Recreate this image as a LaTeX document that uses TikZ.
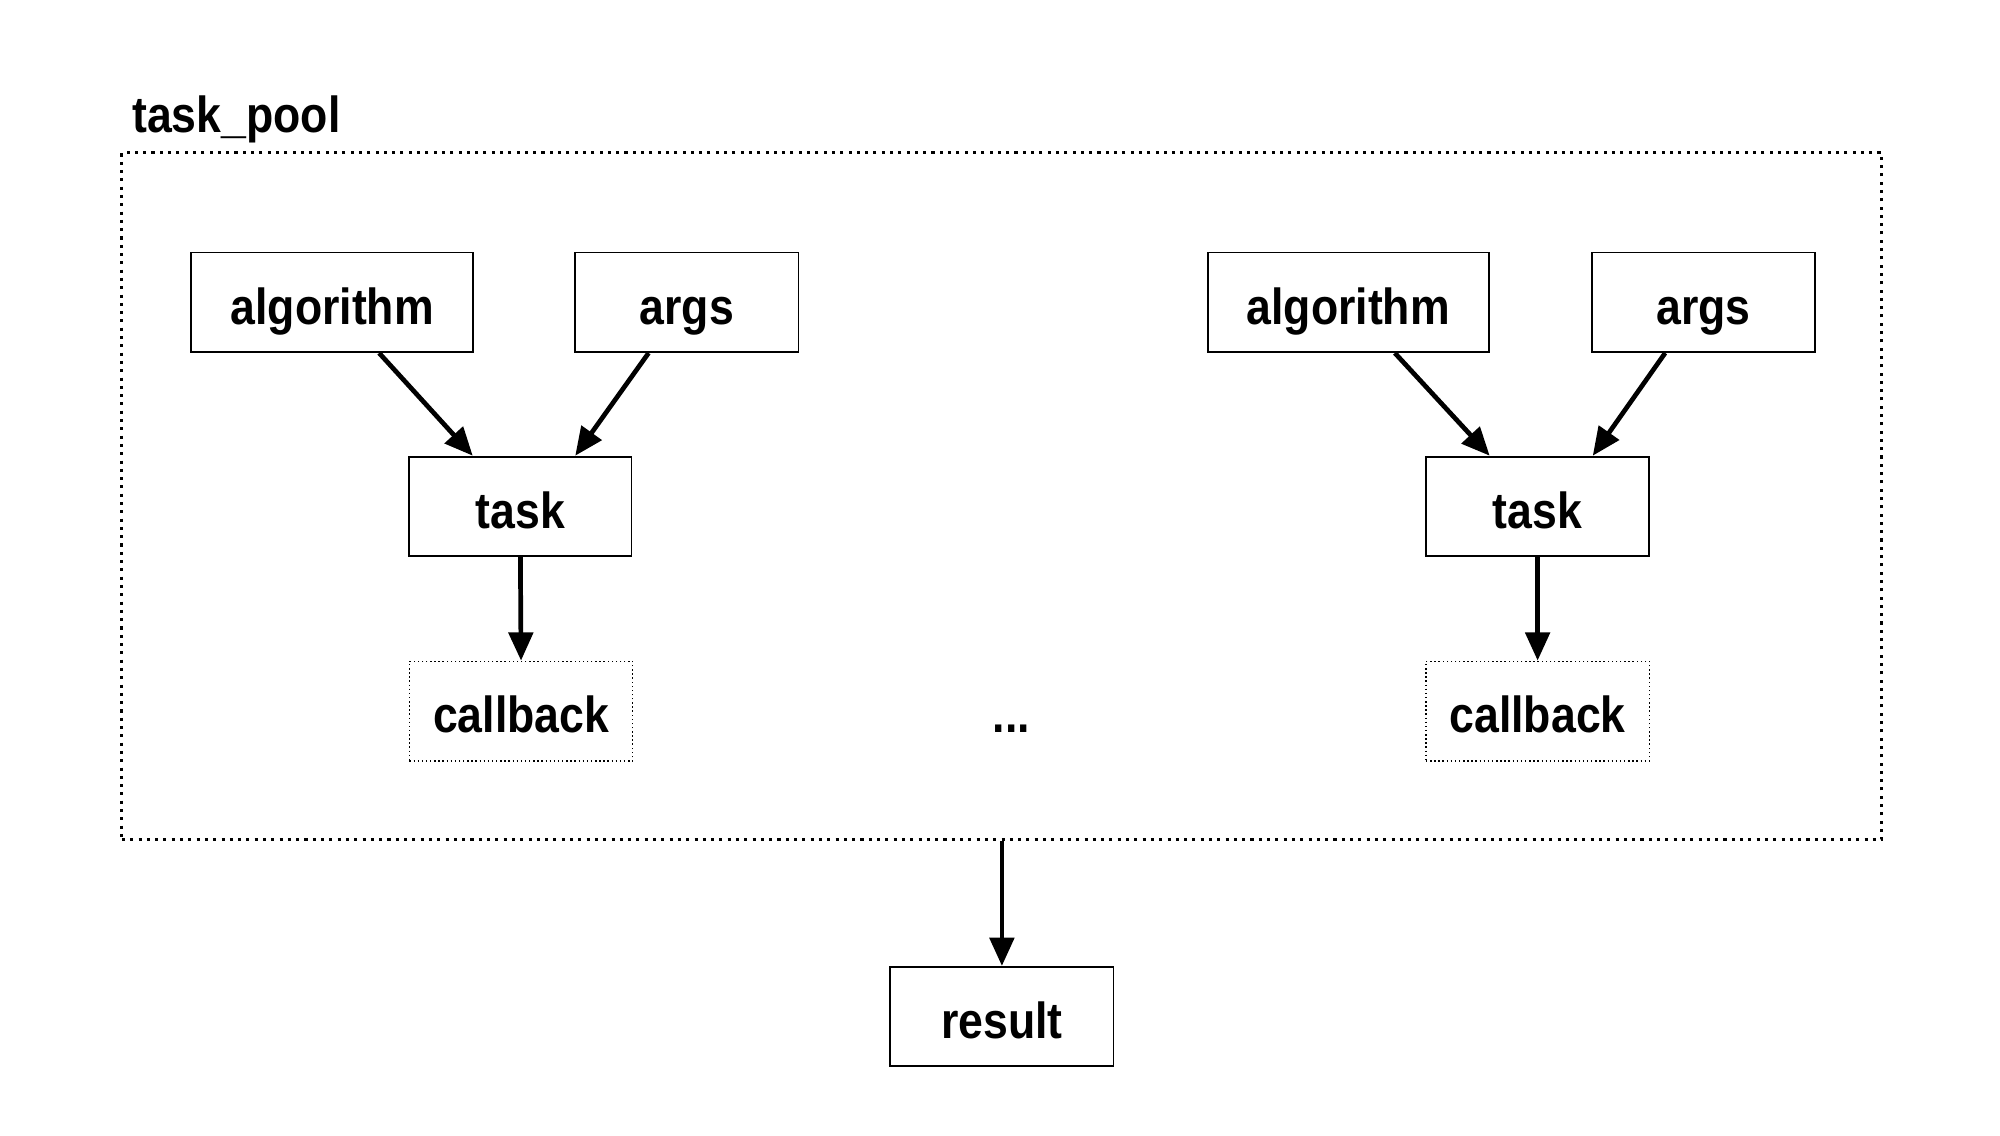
\documentclass[tikz,border=0pt]{standalone}
\usepackage{fontspec}
\setmainfont{Liberation Sans}[FakeStretch=0.88]
\usetikzlibrary{arrows.meta,calc}
\begin{document}
\begin{tikzpicture}[x=0.01cm,y=-0.01cm,
  font=\fontsize{11.3}{13}\selectfont\bfseries,
  box/.style={draw,line width=0.4pt,inner sep=0pt,minimum height=0.78cm,
    text height=0.40cm,text depth=0.06cm},
  cbbox/.style={box,line width=0.32pt,dash pattern=on 0.32pt off 0.6pt},
  pool/.style={draw,line width=0.68pt,dash pattern=on 0.68pt off 1.17pt,inner sep=0pt},
  conn/.style={line width=1.05pt,-{Triangle[length=6.3pt,width=5.4pt]}}]
\useasboundingbox (0,0) rectangle (1568,890.6);
\node[pool,minimum width=13.79cm,minimum height=5.38cm] (pool) at (785.5,389) {};
\node[anchor=base west,inner sep=0pt] (poollabel) at (103,104) {task\_pool};
% left group
\node[box,minimum width=2.21cm] (algL) at (260.5,237) {algorithm};
\node[box,minimum width=1.75cm] (argsL) at (538.5,237) {args};
\node[box,minimum width=1.74cm] (taskL) at (408,397) {task};
\node[cbbox,minimum width=1.75cm] (cbL) at (408.5,557.5) {callback};
% right group
\node[box,minimum width=2.20cm] (algR) at (1057,237) {algorithm};
\node[box,minimum width=1.75cm] (argsR) at (1335.5,237) {args};
\node[box,minimum width=1.75cm] (taskR) at (1205.5,397) {task};
\node[cbbox,minimum width=1.75cm] (cbR) at (1205.5,557.5) {callback};
% dots
\node[anchor=base,inner sep=0pt] (dots) at (793,574) {...};
% result
\node[box,minimum width=1.75cm] (result) at (785.5,797) {result};
% connectors
\draw[conn] ($(algL.south west)!0.665!(algL.south east)$) -- ($(taskL.north west)!0.287!(taskL.north east)$);
\draw[conn] ($(argsL.south west)!0.33!(argsL.south east)$) -- ($(taskL.north west)!0.745!(taskL.north east)$);
\draw[conn] (taskL.south) -- (cbL.north);
\draw[conn] ($(algR.south west)!0.665!(algR.south east)$) -- ($(taskR.north west)!0.287!(taskR.north east)$);
\draw[conn] ($(argsR.south west)!0.33!(argsR.south east)$) -- ($(taskR.north west)!0.745!(taskR.north east)$);
\draw[conn] (taskR.south) -- (cbR.north);
\draw[conn] (pool.south) -- (result.north);
\end{tikzpicture}
\end{document}
